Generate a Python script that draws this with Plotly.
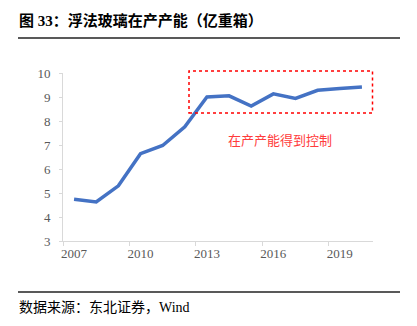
import plotly.graph_objects as go

years = [2007, 2008, 2009, 2010, 2011, 2012, 2013, 2014, 2015, 2016, 2017, 2018, 2019, 2020]
capacity = [4.74, 4.63, 5.30, 6.64, 6.98, 7.76, 9.00, 9.05, 8.62, 9.13, 8.94, 9.28, 9.35, 9.42]
x_ticks = [2007, 2010, 2013, 2016, 2019]
y_ticks = [3, 4, 5, 6, 7, 8, 9, 10]
title_text = "图 33：浮法玻璃在产产能（亿重箱）"
source_text = "数据来源：东北证券，Wind"
note_text = "在产产能得到控制"

serif = "Liberation Serif, Noto Sans CJK SC, serif"

fig = go.Figure()
fig.add_trace(go.Scatter(x=years, y=capacity, mode="lines",
                         line=dict(color="#4472C4", width=3.5), hoverinfo="skip"))

fig.update_layout(
    width=417, height=326,
    margin=dict(l=63, r=44, t=73, b=85),
    paper_bgcolor="white", plot_bgcolor="white",
    showlegend=False,
    xaxis=dict(range=[2006.5, 2020.5], tickvals=x_ticks, ticks="", showgrid=False,
               showline=True, linecolor="#d9d9d9", linewidth=1, zeroline=False,
               tickfont=dict(family=serif, size=13, color="#595959"),
               minor=dict(tickvals=[2006.5, 2009.5, 2012.5, 2015.5, 2018.5], ticks="outside",
                          ticklen=4, tickcolor="#d9d9d9", showgrid=False)),
    yaxis=dict(range=[3, 10], tickvals=y_ticks, ticks="outside", ticklen=3, tickcolor="#d9d9d9",
               showgrid=False, showline=True, linecolor="#d9d9d9", linewidth=1, zeroline=False,
               ticklabelstandoff=6,
               tickfont=dict(family=serif, size=13, color="#595959")),
)

# red dotted highlight box (paper coords so it is not clipped at the plot edge)
fig.add_shape(type="rect", xref="paper", yref="paper",
              x0=(189-63)/310, x1=(372.5-63)/310, y0=(241-113)/168, y1=(241-71)/168,
              line=dict(color="#FF0000", width=1.5, dash="dot"), layer="above")
fig.add_annotation(text=note_text, xref="x", yref="y", x=2016.3, y=7.25, showarrow=False,
                   font=dict(family="Noto Sans CJK SC", size=13, color="#FF3B3B"))

# title, separator lines and source
fig.add_annotation(text="<b>" + title_text + "</b>", xref="paper", yref="paper",
                   x=-46/310, y=1 + (73-20)/168, xanchor="left", yanchor="middle", showarrow=False,
                   font=dict(family=serif, size=15, color="#000000"))
fig.add_shape(type="line", xref="paper", yref="paper", x0=-45/310, x1=337/310,
              y0=1 + (73-38)/168, y1=1 + (73-38)/168, line=dict(color="#222222", width=1.5))
fig.add_shape(type="line", xref="paper", yref="paper", x0=-45/310, x1=337/310,
              y0=-(292-241)/168, y1=-(292-241)/168, line=dict(color="#222222", width=1.5))
fig.add_annotation(text=source_text, xref="paper", yref="paper",
                   x=-46/310, y=-(307-241)/168, xanchor="left", yanchor="middle", showarrow=False,
                   font=dict(family=serif, size=14, color="#000000"))

fig.write_html("out.html")
